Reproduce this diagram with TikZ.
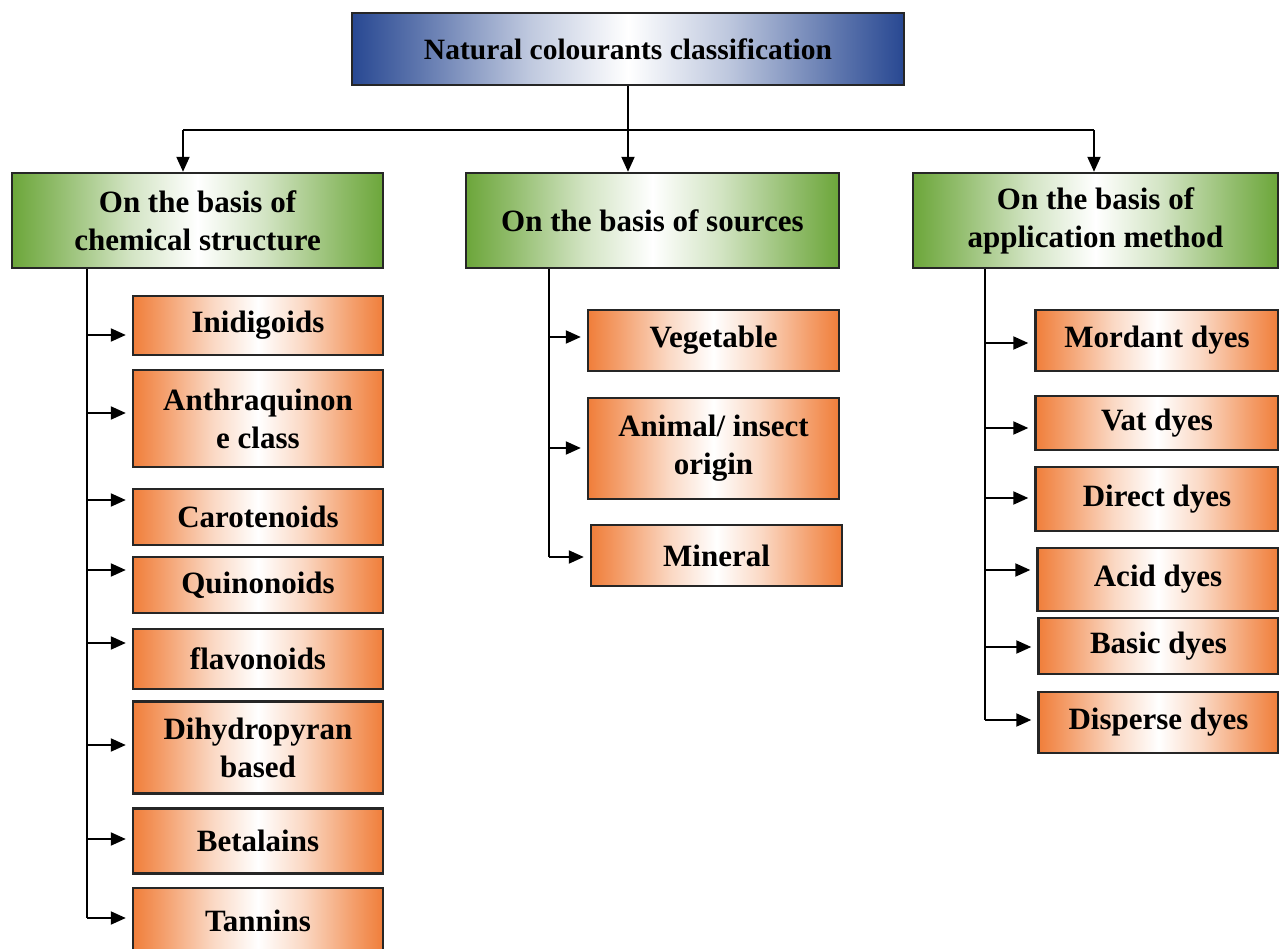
\documentclass[tikz,border=0pt]{standalone}
\usepackage{fontspec}
\setmainfont{Liberation Serif}
\usetikzlibrary{arrows.meta}
\definecolor{titleblue}{RGB}{40,72,146}
\definecolor{leafgreen}{RGB}{108,166,58}
\definecolor{leaforange}{RGB}{240,126,58}
\pgfdeclarehorizontalshading{blueband}{100bp}{color(0bp)=(titleblue); color(25bp)=(titleblue); color(31bp)=(titleblue!75!white); color(41bp)=(titleblue!30!white); color(50bp)=(white); color(59bp)=(titleblue!30!white); color(69bp)=(titleblue!75!white); color(75bp)=(titleblue); color(100bp)=(titleblue)}
\pgfdeclarehorizontalshading{greenband}{100bp}{color(0bp)=(leafgreen); color(25bp)=(leafgreen); color(31bp)=(leafgreen!75!white); color(41bp)=(leafgreen!30!white); color(50bp)=(white); color(59bp)=(leafgreen!30!white); color(69bp)=(leafgreen!75!white); color(75bp)=(leafgreen); color(100bp)=(leafgreen)}
\pgfdeclarehorizontalshading{orangeband}{100bp}{color(0bp)=(leaforange); color(25bp)=(leaforange); color(31bp)=(leaforange!75!white); color(41bp)=(leaforange!30!white); color(50bp)=(white); color(59bp)=(leaforange!30!white); color(69bp)=(leaforange!75!white); color(75bp)=(leaforange); color(100bp)=(leaforange)}

\begin{document}
\begin{tikzpicture}[x = 1pt, y = -1pt,
  box/.style = {draw = black!85, line width = 2.4pt, inner sep = 0pt, align = center,
    font = \fontsize{31}{38}\selectfont\bfseries},
  titlebox/.style = {box, shading = blueband},
  groupbox/.style = {box, shading = greenband},
  itembox/.style = {box, shading = orangeband},
  link/.style = {line width = 2pt},
  arrow/.style = {link, -{Triangle[length = 15pt, width = 13pt]}},
  feed/.style = {arrow, shorten > = 6pt}]
\useasboundingbox (0, 0) rectangle (1279, 949);

\node[titlebox, minimum width = 552, minimum height = 72, font = \fontsize{29.5}{36}\selectfont\bfseries] (title) at (628, 49) {Natural colourants classification};

\node[groupbox, minimum width = 371, minimum height = 95] (chem) at (197.5, 220.5) {On the basis of\\chemical structure};
\node[groupbox, minimum width = 373, minimum height = 95] (src) at (652.5, 220.5) {On the basis of sources};
\node[groupbox, minimum width = 365, minimum height = 95] (app) at (1095.5, 220.5) {On the basis of\\application method};

\coordinate (busl) at (183, 130);
\coordinate (busr) at (1094, 130);
\draw[link] (busl) -- (busr);
\draw[arrow] (title.south) -- (title.south |- src.north);
\draw[arrow] (busl) -- (busl |- chem.north);
\draw[arrow] (busr) -- (busr |- app.north);

\node[itembox, minimum width = 250, minimum height = 59] (ini) at (258, 325.5) {Inidigoids};
\node[itembox, minimum width = 250, minimum height = 97] (anth) at (258, 418.5) {Anthraquinon\\e class};
\node[itembox, minimum width = 250, minimum height = 56] (caro) at (258, 517) {Carotenoids};
\node[itembox, minimum width = 250, minimum height = 56] (quin) at (258, 585) {Quinonoids};
\node[itembox, minimum width = 250, minimum height = 60] (flav) at (258, 659) {flavonoids};
\node[itembox, minimum width = 250, minimum height = 92] (dihy) at (258, 747.5) {Dihydropyran\\based};
\node[itembox, minimum width = 250, minimum height = 65] (beta) at (258, 841) {Betalains};
\node[itembox, minimum width = 250, minimum height = 66] (tann) at (258, 921) {Tannins};

\coordinate (ini-in) at (87, 335);
\coordinate (anth-in) at (87, 413);
\coordinate (caro-in) at (87, 500);
\coordinate (quin-in) at (87, 570);
\coordinate (flav-in) at (87, 643);
\coordinate (dihy-in) at (87, 745);
\coordinate (beta-in) at (87, 839);
\coordinate (tann-in) at (87, 918);
\draw[link] (tann-in |- chem.south) -- (tann-in);
\draw[feed] (ini-in) -- (ini-in -| ini.west);
\draw[feed] (anth-in) -- (anth-in -| anth.west);
\draw[feed] (caro-in) -- (caro-in -| caro.west);
\draw[feed] (quin-in) -- (quin-in -| quin.west);
\draw[feed] (flav-in) -- (flav-in -| flav.west);
\draw[feed] (dihy-in) -- (dihy-in -| dihy.west);
\draw[feed] (beta-in) -- (beta-in -| beta.west);
\draw[feed] (tann-in) -- (tann-in -| tann.west);

\node[itembox, minimum width = 251, minimum height = 61] (veg) at (713.5, 340.5) {Vegetable};
\node[itembox, minimum width = 251, minimum height = 101] (anim) at (713.5, 448.5) {Animal/ insect\\origin};
\node[itembox, minimum width = 251, minimum height = 61] (mine) at (716.5, 555.5) {Mineral};

\coordinate (veg-in) at (549, 337);
\coordinate (anim-in) at (549, 448);
\coordinate (mine-in) at (549, 557);
\draw[link] (mine-in |- src.south) -- (mine-in);
\draw[feed] (veg-in) -- (veg-in -| veg.west);
\draw[feed] (anim-in) -- (anim-in -| anim.west);
\draw[feed] (mine-in) -- (mine-in -| mine.west);

\node[itembox, minimum width = 243, minimum height = 61] (mord) at (1157, 340.5) {Mordant dyes};
\node[itembox, minimum width = 243, minimum height = 54] (vat) at (1157, 423) {Vat dyes};
\node[itembox, minimum width = 243, minimum height = 64] (dir) at (1157, 499) {Direct dyes};
\node[itembox, minimum width = 241, minimum height = 63] (acid) at (1158, 579.5) {Acid dyes};
\node[itembox, minimum width = 240, minimum height = 56] (basic) at (1158.5, 646) {Basic dyes};
\node[itembox, minimum width = 240, minimum height = 61] (disp) at (1158.5, 722.5) {Disperse dyes};

\coordinate (mord-in) at (985, 343);
\coordinate (vat-in) at (985, 428);
\coordinate (dir-in) at (985, 498);
\coordinate (acid-in) at (985, 570);
\coordinate (basic-in) at (985, 647);
\coordinate (disp-in) at (985, 720);
\draw[link] (disp-in |- app.south) -- (disp-in);
\draw[feed] (mord-in) -- (mord-in -| mord.west);
\draw[feed] (vat-in) -- (vat-in -| vat.west);
\draw[feed] (dir-in) -- (dir-in -| dir.west);
\draw[feed] (acid-in) -- (acid-in -| acid.west);
\draw[feed] (basic-in) -- (basic-in -| basic.west);
\draw[feed] (disp-in) -- (disp-in -| disp.west);
\end{tikzpicture}
\end{document}
